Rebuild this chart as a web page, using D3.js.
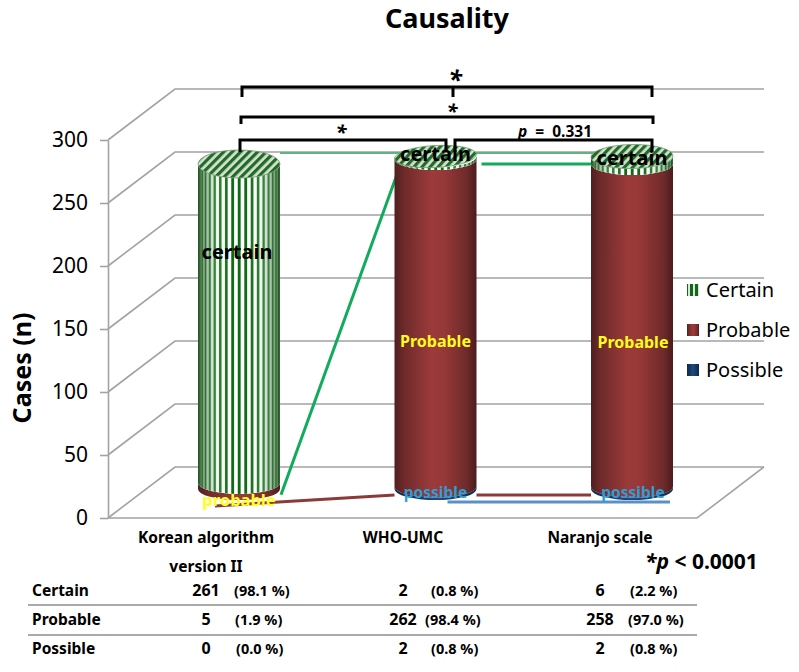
<!DOCTYPE html>
<html>
<head>
<meta charset="utf-8">
<title>Causality</title>
<script src="https://d3js.org/d3.v7.min.js"></script>
<style>
  html, body { margin: 0; padding: 0; background: #fff; }
  svg { display: block; }
  text { font-family: "Noto Sans", sans-serif; fill: #000; }
  .b { font-weight: 700; }
</style>
</head>
<body>
<svg id="chart" width="799" height="672"></svg>
<script>
// Data -----------------------------------------------------------
const methods = ["Korean algorithm", "WHO-UMC", "Naranjo scale"];
const grades = ["Certain", "Probable", "Possible"];
const certain = [261, 2, 6];
const probable = [5, 262, 258];
const possible = [0, 2, 2];
const certainPct = ["98.1", "0.8", "2.2"];
const probablePct = ["1.9", "98.4", "97.0"];
const possiblePct = ["0.0", "0.8", "0.8"];
const yTicks = [0, 50, 100, 150, 200, 250, 300];

const svg = d3.select("#chart");

// Scales ---------------------------------------------------------
const yFront = d3.scaleLinear().domain([0, 300]).range([518, 140]);
const yCyl = d3.scaleLinear().domain([0, 300]).range([489, 114]);
const x = d3.scalePoint().domain(methods).range([239, 632]);
const depthX = 67, depthY = -51;
const rx = 41, baseRy = 11;
const topRy = [14, 11, 12];
const topSquash = [7.5, 0, 0]; // first cylinder is drawn nearer to the camera
const topTilt = [0, -3, -1];

const rows = methods.map((m, i) => ({ method: m, certain: certain[i], probable: probable[i], possible: possible[i] }));
const stacked = d3.stack().keys(["possible", "probable", "certain"])(rows);

// Defs -----------------------------------------------------------
const defs = svg.append("defs");

function hGradient(id, stops) {
  const g = defs.append("linearGradient").attr("id", id).attr("x1", 0).attr("x2", 1).attr("y1", 0).attr("y2", 0);
  stops.forEach(s => g.append("stop").attr("offset", s[0]).attr("stop-color", s[1]).attr("stop-opacity", s[2] === undefined ? 1 : s[2]));
}
hGradient("redSide", [[0, "#4f1f1f"], [0.12, "#6f2a2a"], [0.45, "#9c3a3a"], [0.6, "#973838"], [0.88, "#6f2a2a"], [1, "#4a1c1c"]]);
hGradient("navySide", [[0, "#10284a"], [0.5, "#1f4a80"], [1, "#10284a"]]);
hGradient("greenShade", [[0, "#1c4a1c", 0.8], [0.1, "#4f7f4f", 0.55], [0.22, "#a8cca8", 0.25], [0.4, "#ffffff", 0], [0.62, "#ffffff", 0], [0.78, "#a8cca8", 0.25], [0.9, "#4f7f4f", 0.55], [1, "#1c4a1c", 0.8]]);

const topPat = defs.append("pattern").attr("id", "topStripes").attr("patternUnits", "userSpaceOnUse")
  .attr("width", 6).attr("height", 6).attr("patternTransform", "rotate(45)");
topPat.append("rect").attr("width", 6).attr("height", 6).attr("fill", "#d3e2d3");
topPat.append("rect").attr("width", 3.2).attr("height", 6).attr("fill", "#226a26");

const legendPat = defs.append("pattern").attr("id", "legendStripes").attr("patternUnits", "userSpaceOnUse")
  .attr("width", 5).attr("height", 13);
legendPat.append("rect").attr("width", 5).attr("height", 13).attr("fill", "#d8e8d8");
legendPat.append("rect").attr("width", 3).attr("height", 13).attr("fill", "#14661a");

// Walls and grid -------------------------------------------------
const grid = svg.append("g").attr("fill", "none").attr("stroke", "#a3a3a3").attr("stroke-width", 1.6);
yTicks.forEach(t => {
  grid.append("path").attr("d", d3.line()([
    [108, yFront(t)],
    [108 + depthX, yFront(t) + depthY],
    [697 + depthX, yFront(t) + depthY]
  ]));
});
grid.append("path").attr("d", d3.line()([
  [108, yFront(0)],
  [697, yFront(0)],
  [697 + depthX, yFront(0) + depthY]
]));

const axis = svg.append("g").attr("transform", "translate(108,0)")
  .call(d3.axisLeft(yFront).tickValues(yTicks).tickSize(8).tickSizeOuter(0).tickPadding(12));
axis.select(".domain").attr("stroke", "#a3a3a3").attr("stroke-width", 1.6);
axis.selectAll(".tick line").attr("stroke", "#a3a3a3").attr("stroke-width", 1.6);
axis.selectAll(".tick text").attr("font-size", 21).attr("font-family", '"Noto Sans", sans-serif').attr("fill", "#000");

// Series lines behind the cylinders ------------------------------
const seriesLine = (stroke, pts, width) => svg.append("path")
  .attr("d", d3.line()(pts)).attr("fill", "none").attr("stroke", stroke).attr("stroke-width", width || 3);

seriesLine("#5fb380", [[x(methods[0]) + rx, yCyl(266) - 3.5], [x(methods[2]) - 15, yCyl(266) - 3.5]], 2);
seriesLine("#12ab5d", [[x(methods[0]) + rx + 1, yCyl(5) + 12], [x(methods[1]) - rx + 3, yCyl(264) + 14]]);
seriesLine("#12ab5d", [[x(methods[1]) + rx + 5, yCyl(264) + 5], [x(methods[2]) - rx, yCyl(260)]]);

// Cylinders ------------------------------------------------------
function sidePath(cx, yb, yt, ryB, ryT) {
  return `M${cx - rx},${yb} A${rx},${ryB} 0 0 0 ${cx + rx},${yb} L${cx + rx},${yt} A${rx},${ryT} 0 0 1 ${cx - rx},${yt} Z`;
}
const yAt = (v, i) => yCyl(v) + topSquash[i] * v / 266;
const fills = { possible: "url(#navySide)", probable: "url(#redSide)" };
const cyl = svg.append("g");

methods.forEach((m, i) => {
  const cx = x(m);
  stacked.forEach(layer => {
    const d = layer[i];
    if (d[1] === d[0]) return;
    const isTop = layer.key === "certain";
    const yb = yAt(d[0], i), yt = yAt(d[1], i);
    const path = sidePath(cx, yb, yt, baseRy, isTop ? topRy[i] : baseRy);
    if (!isTop) {
      cyl.append("path").attr("d", path).attr("fill", fills[layer.key]);
      return;
    }
    // striped side, stripes bunch up towards the edges
    const clipId = "clip" + i;
    const stripeH = yb - yt + baseRy + topRy[i] + 4;
    defs.append("clipPath").attr("id", clipId).append("path").attr("d", path);
    const side = cyl.append("g").attr("clip-path", `url(#${clipId})`);
    side.append("rect").attr("x", cx - rx).attr("y", yt - 2).attr("width", rx * 2).attr("height", stripeH).attr("fill", "#fff");
    d3.range(-9, 10).forEach(k => {
      const a = k * 0.16 - 0.03;
      const x0 = cx + rx * Math.sin(a), x1 = cx + rx * Math.sin(a + 0.07);
      side.append("rect").attr("x", x0).attr("y", yt - 2).attr("width", Math.max(x1 - x0, 1))
        .attr("height", stripeH).attr("fill", "#0f6a14");
    });
    side.append("rect").attr("x", cx - rx).attr("y", yt - 2).attr("width", rx * 2)
      .attr("height", stripeH).attr("fill", "url(#greenShade)");
    // cap
    cyl.append("ellipse").attr("cx", cx).attr("cy", yt).attr("rx", rx).attr("ry", topRy[i])
      .attr("transform", `rotate(${topTilt[i]} ${cx} ${yt})`)
      .attr("fill", "url(#topStripes)").attr("stroke", "#6f9a6f").attr("stroke-width", 0.8);
  });
});

// Series lines in front ------------------------------------------
seriesLine("#8b3a3a", [[x(methods[0]) - 24, yCyl(0) + 17], [x(methods[1]) - rx, yCyl(2) + 8.5]]);
seriesLine("#8b3a3a", [[x(methods[1]) + rx, yCyl(2) + 8.5], [x(methods[2]) - rx, yCyl(2) + 8.5]]);
seriesLine("#5b8fc7", [[x(methods[1]) + 12, yCyl(0) + 13], [x(methods[2]) + 38, yCyl(0) + 13]]);

// Labels on cylinders --------------------------------------------
const label = (tx, ty, txt, size, fill) => svg.append("text").attr("class", "b")
  .attr("x", tx).attr("y", ty).attr("text-anchor", "middle").attr("dominant-baseline", "middle")
  .attr("font-size", size).style("fill", fill).text(txt);

label(x(methods[0]) - 2, yCyl(188), "certain", 20, "#000");
label(x(methods[1]), yCyl(264) - 3, "certain", 20, "#000");
label(x(methods[2]), yCyl(260) - 4, "certain", 20, "#000");
label(x(methods[1]), yCyl(117), "Probable", 16, "#ffff1e");
label(x(methods[2]) + 1, yCyl(116), "Probable", 16, "#ffff1e");
label(x(methods[0]), yCyl(0) + 12, "probable", 16.5, "#ffff1e");
label(x(methods[1]), yCyl(0) + 5, "possible", 15.5, "#2a9fd6");
label(x(methods[2]) + 1, yCyl(0) + 5, "possible", 15.5, "#2a9fd6");

// Significance brackets ------------------------------------------
const bracket = (x0, x1, y, dl, dr) => svg.append("path")
  .attr("d", `M${x0},${y + dl} V${y} H${x1} V${y + dr}`)
  .attr("fill", "none").attr("stroke", "#000").attr("stroke-width", 3);

bracket(242, 652, 87, 10, 10);
svg.append("line").attr("x1", 453).attr("x2", 453).attr("y1", 87).attr("y2", 97).attr("stroke", "#000").attr("stroke-width", 3);
bracket(241, 653, 117, 7, 7);
bracket(240, 446, 140, 12, 12);
bracket(455, 652, 140, 12, 12);

const star = (tx, ty, size) => svg.append("text").attr("class", "b").attr("x", tx).attr("y", ty)
  .attr("text-anchor", "middle").attr("font-size", size).attr("font-style", "italic").text("*");
star(455, 88, 25);
star(452, 118, 20);
star(341, 139, 20);

const pLabel = svg.append("text").attr("class", "b").attr("x", 555).attr("y", 137)
  .attr("text-anchor", "middle").attr("font-size", 15.5).attr("xml:space", "preserve");
pLabel.append("tspan").attr("font-style", "italic").text("p");
pLabel.append("tspan").text("  =  0.331");

// Legend ---------------------------------------------------------
const legendFill = ["url(#legendStripes)", "url(#redSide)", "url(#navySide)"];
grades.forEach((g, i) => {
  const ly = 290 + i * 40;
  svg.append("rect").attr("x", 687).attr("y", ly - 6).attr("width", 12).attr("height", 12).attr("fill", legendFill[i]);
  svg.append("text").attr("x", 706).attr("y", ly + 7).attr("font-size", 20).text(g);
});

// Titles ---------------------------------------------------------
svg.append("text").attr("class", "b").attr("x", 447).attr("y", 28).attr("text-anchor", "middle").attr("font-size", 27).text("Causality");
svg.append("text").attr("class", "b").attr("transform", "translate(31,368) rotate(-90)").attr("text-anchor", "middle").attr("font-size", 25).text("Cases (n)");

const countX = [206, 403, 600];
methods.forEach((m, i) => {
  svg.append("text").attr("class", "b").attr("x", countX[i]).attr("y", 543).attr("text-anchor", "middle").attr("font-size", 15.5).text(m);
});
svg.append("text").attr("class", "b").attr("x", 206).attr("y", 572).attr("text-anchor", "middle").attr("font-size", 15.5).text("version II");

const pNote = svg.append("text").attr("class", "b").attr("x", 645).attr("y", 569).attr("font-size", 21);
pNote.append("tspan").attr("font-style", "italic").text("*p");
pNote.append("tspan").text(" < 0.0001");

// Table ----------------------------------------------------------
const counts = [certain, probable, possible];
const pcts = [certainPct, probablePct, possiblePct];
const rowBase = [596, 625, 654];
const pctX = [234, 431, 630];
const pctDx = [[0, 0, 0], [1, -6, -2], [2, 0, 0]];

grades.forEach((g, r) => {
  const y = rowBase[r];
  svg.append("text").attr("class", "b").attr("x", 32).attr("y", y).attr("font-size", 15.5).text(g);
  methods.forEach((m, c) => {
    svg.append("text").attr("class", "b").attr("x", countX[c]).attr("y", y).attr("text-anchor", "middle").attr("font-size", 16).text(counts[r][c]);
    svg.append("text").attr("class", "b").attr("x", pctX[c] + pctDx[r][c]).attr("y", y).attr("font-size", 14.5).text(`(${pcts[r][c]} %)`);
  });
});
[605, 635].forEach(y => {
  svg.append("line").attr("x1", 28).attr("x2", 697).attr("y1", y).attr("y2", y).attr("stroke", "#8c8c8c").attr("stroke-width", 1.6);
});
</script>
</body>
</html>
